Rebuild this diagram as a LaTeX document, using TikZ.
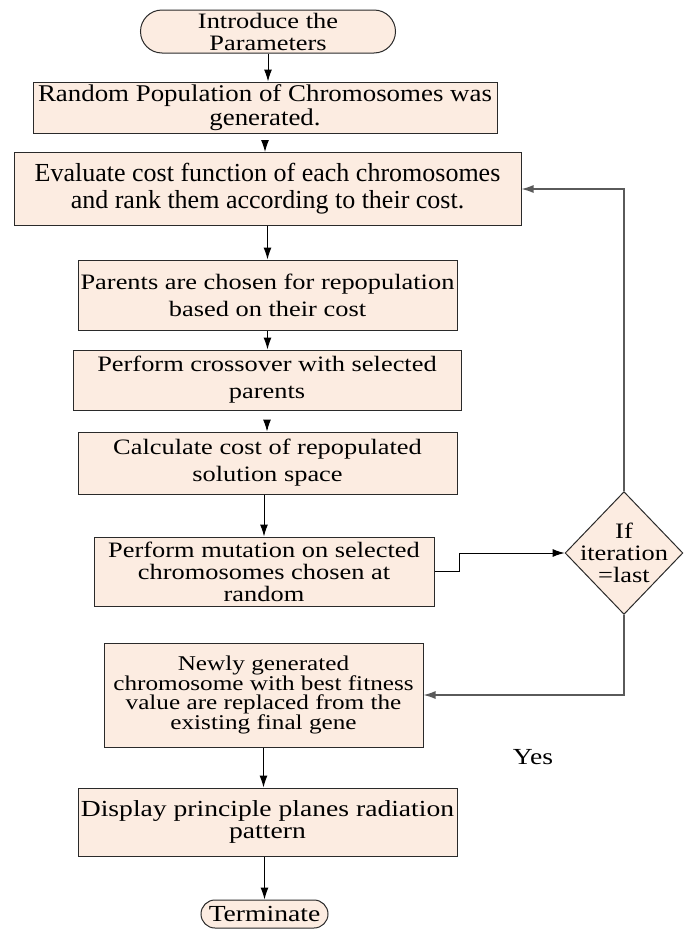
\documentclass[tikz,border=0pt]{standalone}
\usepackage{fontspec}
\setmainfont{Liberation Serif}
\newfontfamily\widefont[FakeStretch=1.2]{Liberation Serif}
\newfontfamily\midfont[FakeStretch=1.12]{Liberation Serif}
\usetikzlibrary{arrows.meta,shapes.geometric,shapes.misc}
\definecolor{peach}{HTML}{FCECE1}
\definecolor{edge}{HTML}{2A2A2A}
\definecolor{fb}{HTML}{5A5A5A}
\begin{document}
\begin{tikzpicture}[x=1pt,y=-1pt,
  box/.style={draw=edge,fill=peach,line width=1pt,align=center,inner sep=0pt,
    font=\widefont\fontsize{22}{27}\selectfont},
  term/.style={box,rounded rectangle},
  dec/.style={box,diamond,aspect=0.96,inner sep=-7pt},
  conn/.style={draw=black,line width=1pt,-{Latex[length=12pt,width=8pt]}},
  fbk/.style={draw=fb,line width=1.2pt,-{Latex[length=12pt,width=8pt]}}]
\useasboundingbox (0,0) rectangle (691,929);
\node[term,minimum width=255pt,minimum height=43pt,font=\widefont\fontsize{22}{22}\selectfont] (start) at (268,31.5) {Introduce the\\Parameters};
\node[box,minimum width=464pt,minimum height=51pt,font=\midfont\fontsize{24}{24}\selectfont] (gen) at (265,107.5) {Random Population of Chromosomes was\\generated.};
\node[box,minimum width=507pt,minimum height=73pt,font=\fontsize{26}{27}\selectfont] (eval) at (267.5,189) {Evaluate cost function of each chromosomes\\and rank them according to their cost.};
\node[box,minimum width=379pt,minimum height=70pt] (par) at (267.5,295) {Parents are chosen for repopulation\\based on their cost};
\node[box,minimum width=388pt,minimum height=60pt] (cross) at (267,380) {Perform crossover with selected\\parents};
\node[box,minimum width=379pt,minimum height=62pt] (calc) at (267.5,463) {Calculate cost of repopulated\\solution space};
\node[box,minimum width=340pt,minimum height=69pt,font=\widefont\fontsize{22}{22}\selectfont] (mut) at (264,571.5) {Perform mutation on selected\\chromosomes chosen at\\random};
\node[dec,minimum width=117pt,minimum height=122pt,font=\widefont\fontsize{22}{22}\selectfont] (if) at (624,553) {If\\iteration\\=last};
\node[box,minimum width=319pt,minimum height=104pt,font=\widefont\fontsize{21}{19}\selectfont] (new) at (263.5,695) {Newly generated\\chromosome with best fitness\\value are replaced from the\\existing final gene};
\node[box,minimum width=379pt,minimum height=68pt,font=\widefont\fontsize{23}{22}\selectfont] (disp) at (267.5,822) {Display principle planes radiation\\pattern};
\node[term,minimum width=127pt,minimum height=28pt,font=\widefont\fontsize{23}{23}\selectfont] (end) at (264.5,914) {Terminate};
\node[font=\widefont\fontsize{23}{23}\selectfont] (yes) at (533,757) {Yes};
\draw[conn] (start.south) -- (start.south |- gen.north);
\draw[conn] ([yshift=-15pt]gen.south) -- (gen.south |- eval.north);
\draw[conn] (eval.south) -- (eval.south |- par.north);
\draw[conn] (par.south) -- (par.south |- cross.north);
\draw[conn] ([yshift=-18pt]cross.south) -- (cross.south |- calc.north);
\draw[conn] ([xshift=-3.5pt]calc.south) -- ([xshift=-3.5pt]calc.south |- mut.north);
\draw[conn] (new.south) -- (new.south |- disp.north);
\draw[conn] ([xshift=-3pt]disp.south) -- ([xshift=-3pt]disp.south |- end.north);
\coordinate (m1) at (459,571.5);
\draw[conn] (mut.east) -- (m1) -- (m1 |- if.west) -- (if.west);
\draw[fbk] (if.north) -- (if.north |- eval.east) -- (eval.east);
\draw[fbk] (if.south) -- (if.south |- new.east) -- (new.east);
\end{tikzpicture}
\end{document}
